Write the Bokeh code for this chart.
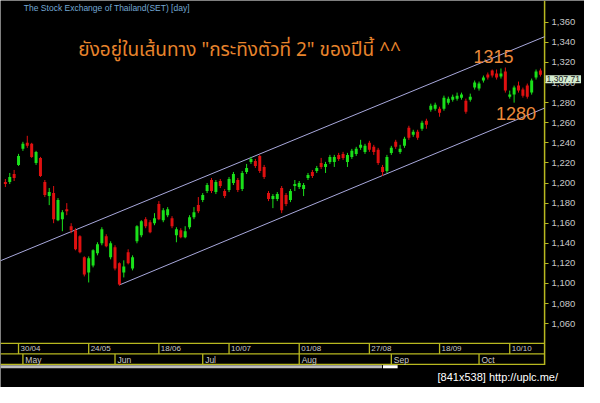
from bokeh.plotting import figure
from bokeh.models import Range1d, LinearAxis, FixedTicker, NumeralTickFormatter, Label
from bokeh.core.properties import value
from bokeh.embed import file_html
from bokeh.resources import INLINE

# ---------------- data ----------------
opens = [1201, 1201, 1209, 1218, 1234, 1240, 1239, 1220, 1225, 1201,
         1187, 1190, 1163, 1164, 1174, 1157, 1153, 1147, 1126, 1111,
         1118, 1130, 1140, 1147, 1126, 1136, 1120, 1111, 1131, 1115,
         1142, 1148, 1164, 1161, 1160, 1179, 1163, 1168, 1165, 1148,
         1153, 1146, 1156, 1166, 1178, 1183, 1192, 1203, 1191, 1202,
         1192, 1193, 1200, 1203, 1194, 1211, 1221, 1222, 1227, 1216,
         1190, 1184, 1184, 1195, 1188, 1183, 1197, 1196, 1194, 1205,
         1211, 1212, 1220, 1216, 1221, 1221, 1228, 1229, 1221, 1226,
         1229, 1235, 1231, 1240, 1236, 1233, 1216, 1212, 1230, 1241,
         1231, 1237, 1255, 1248, 1251, 1254, 1262, 1273, 1274, 1274,
         1274, 1280, 1283, 1284, 1285, 1282, 1283, 1295, 1294, 1302,
         1308, 1312, 1309, 1306, 1311, 1286, 1288, 1297, 1293, 1297,
         1290, 1305, 1312]
highs = [1204, 1210, 1213, 1229, 1241, 1247, 1240, 1232, 1226, 1203,
         1195, 1197, 1185, 1173, 1180, 1160, 1155, 1148, 1127, 1127,
         1134, 1141, 1156, 1149, 1142, 1138, 1121, 1123, 1134, 1128,
         1158, 1163, 1166, 1163, 1170, 1182, 1175, 1176, 1167, 1156,
         1155, 1157, 1168, 1176, 1186, 1190, 1200, 1205, 1203, 1204,
         1194, 1206, 1211, 1205, 1212, 1219, 1226, 1224, 1228, 1218,
         1192, 1189, 1191, 1197, 1190, 1194, 1203, 1202, 1200, 1210,
         1213, 1217, 1225, 1221, 1228, 1228, 1230, 1231, 1230, 1234,
         1236, 1243, 1239, 1242, 1238, 1235, 1218, 1228, 1237, 1243,
         1238, 1246, 1257, 1253, 1253, 1262, 1264, 1279, 1280, 1276,
         1287, 1286, 1288, 1290, 1290, 1284, 1289, 1302, 1301, 1307,
         1310, 1313, 1313, 1314, 1315, 1292, 1297, 1301, 1295, 1299,
         1304, 1313, 1314]
lows = [1196, 1199, 1202, 1217, 1232, 1235, 1225, 1218, 1206, 1186,
        1178, 1160, 1162, 1152, 1168, 1150, 1133, 1130, 1107, 1101,
        1116, 1128, 1138, 1136, 1124, 1113, 1098, 1106, 1119, 1113,
        1140, 1146, 1155, 1150, 1158, 1163, 1161, 1166, 1155, 1141,
        1145, 1145, 1154, 1164, 1170, 1181, 1190, 1190, 1189, 1195,
        1185, 1191, 1198, 1191, 1192, 1209, 1219, 1215, 1210, 1204,
        1182, 1175, 1182, 1170, 1177, 1181, 1192, 1194, 1187, 1203,
        1205, 1210, 1214, 1210, 1219, 1216, 1222, 1223, 1216, 1224,
        1227, 1233, 1229, 1231, 1228, 1218, 1207, 1210, 1228, 1234,
        1229, 1235, 1243, 1246, 1243, 1252, 1254, 1271, 1272, 1266,
        1272, 1278, 1281, 1282, 1283, 1269, 1281, 1293, 1292, 1300,
        1303, 1305, 1303, 1304, 1290, 1284, 1280, 1290, 1285, 1284,
        1288, 1303, 1306]
closes = [1199, 1206, 1205, 1227, 1239, 1237, 1226, 1231, 1207, 1188,
          1191, 1164, 1183, 1171, 1172, 1153, 1134, 1131, 1109, 1125,
          1133, 1139, 1154, 1137, 1140, 1115, 1099, 1117, 1120, 1126,
          1157, 1162, 1157, 1151, 1165, 1164, 1173, 1174, 1157, 1154,
          1146, 1152, 1166, 1171, 1172, 1188, 1198, 1192, 1201, 1197,
          1187, 1204, 1209, 1193, 1210, 1215, 1224, 1217, 1212, 1206,
          1184, 1187, 1189, 1173, 1179, 1192, 1199, 1200, 1198, 1208,
          1207, 1215, 1216, 1219, 1226, 1226, 1224, 1225, 1228, 1232,
          1234, 1238, 1237, 1233, 1231, 1220, 1211, 1226, 1235, 1236,
          1234, 1244, 1245, 1251, 1245, 1260, 1258, 1277, 1278, 1270,
          1285, 1284, 1286, 1287, 1288, 1271, 1286, 1300, 1299, 1305,
          1305, 1307, 1305, 1309, 1292, 1288, 1295, 1292, 1287, 1286,
          1302, 1311, 1307.71]

y_ticks = list(range(1060, 1361, 20))
date_labels = ["30/04", "24/05", "18/06", "10/07", "01/08", "27/08", "18/09", "10/10"]
date_idx = [3, 19, 35, 51, 67, 83, 99, 115]
month_labels = ["May", "Jun", "Jul", "Aug", "Sep", "Oct"]
month_idx = [4, 25, 45, 67, 88, 108]

# channel (trend lines drawn on the chart): bar index, price
upper_x = [-1.11, 122.95]
upper_y = [1122.6, 1345.7]
lower_x = [26.0, 122.95]
lower_y = [1098.5, 1274.6]

last_price = closes[-1]

# ---------------- layout helpers (reference pixel -> data) ----------------
W, H = 584, 387


def ix(px):
    return (px - 5) / 4.506


def pv(py):
    return 1360 - (py - 22.7) / 1.046


YEL = "#b8b820"
GREEN = "#1ae01a"
RED = "#e01010"
GREY = "#c8c8c8"

p = figure(width=W, height=H, output_backend="svg", toolbar_location=None,
           x_range=Range1d(ix(0), ix(600)), y_range=Range1d(pv(403), pv(0)),
           x_axis_location=None, y_axis_location=None,
           min_border_left=0, min_border_top=0, min_border_right=0, min_border_bottom=0)
p.background_fill_color = "black"
p.border_fill_color = "black"
p.outline_line_color = None
p.xgrid.visible = False
p.ygrid.visible = False

ax = LinearAxis(ticker=FixedTicker(ticks=y_ticks), formatter=NumeralTickFormatter(format="0,0"),
                fixed_location=ix(559),
                axis_line_color=None,
                major_tick_line_color=YEL, major_tick_out=4, major_tick_in=0,
                minor_tick_line_color=None,
                major_label_text_color=GREY, major_label_text_font="Liberation Sans",
                major_label_text_font_size="9.5px", major_label_standoff=3)
p.add_layout(ax, "right")

# axis spine (stops at the bottom of the date rows)
p.segment(x0=[ix(559)], y0=[pv(379.5)], x1=[ix(559)], y1=[pv(0)], line_color=YEL, line_width=1.5)

# channel lines
p.line(upper_x, upper_y, line_color="#a8a8dc", line_width=1)
p.line(lower_x, lower_y, line_color="#a8a8dc", line_width=1)

# candles
n = len(closes)
xs = list(range(n))
cols = [GREEN if c >= o else RED for o, c in zip(opens, closes)]
p.segment(x0=xs, y0=lows, x1=xs, y1=highs, line_color=cols, line_width=1)
tops = [max(o, c) for o, c in zip(opens, closes)]
bots = [min(o, c) for o, c in zip(opens, closes)]
tops = [t if t - b > 0.6 else b + 0.9 for t, b in zip(tops, bots)]
p.vbar(x=xs, width=0.68, top=tops, bottom=bots, fill_color=cols, line_color=None)

# date / month rows
y_top, y_mid, y_bot = pv(357), pv(368), pv(379)
for yy in (y_top, y_mid, y_bot):
    p.segment(x0=[ix(0)], y0=[yy], x1=[ix(559)], y1=[yy], line_color=YEL, line_width=1.3)
p.segment(x0=date_idx, y0=[y_mid] * len(date_idx), x1=date_idx, y1=[y_top] * len(date_idx),
          line_color=YEL, line_width=1.3)
p.segment(x0=month_idx, y0=[y_bot] * len(month_idx), x1=month_idx, y1=[y_mid] * len(month_idx),
          line_color=YEL, line_width=1.3)
p.text(x=[i + 0.45 for i in date_idx], y=[pv(362.8)] * len(date_idx), text=date_labels,
       text_font=value("Liberation Sans"), text_font_size="8px", text_color=GREY,
       text_baseline="middle", text_align="left")
p.text(x=[i + 0.55 for i in month_idx], y=[pv(374)] * len(month_idx), text=month_labels,
       text_font=value("Liberation Sans"), text_font_size="8.5px", text_color=GREY,
       text_baseline="middle", text_align="left")

# scrollbar
p.quad(left=[ix(0)], right=[ix(392)], bottom=[pv(383)], top=[pv(379.8)], fill_color="#bdbdbd", line_color=None)
p.quad(left=[ix(393)], right=[ix(408)], bottom=[pv(383)], top=[pv(379.8)], fill_color="#ffffff", line_color=None)

# texts
p.add_layout(Label(x=ix(24), y=pv(8), text="The Stock Exchange of Thailand(SET) [day]",
                   text_font="Liberation Sans", text_font_size="8.5px", text_color="#74a8d4",
                   text_baseline="middle", text_align="left"))
p.add_layout(Label(x=ix(80), y=pv(52), text='ยังอยู่ในเส้นทาง "กระทิงตัวที่ 2" ของปีนี้ ^^',
                   text_font="Noto Sans Thai, Noto Sans, sans-serif", text_font_size="19px",
                   text_color="#e8842c", text_baseline="middle", text_align="left"))
p.add_layout(Label(x=ix(486), y=pv(58.5), text="1315", text_font="Liberation Sans",
                   text_font_size="18px", text_color="#ec8a3a", text_baseline="middle", text_align="left"))
p.add_layout(Label(x=ix(509), y=pv(118), text="1280", text_font="Liberation Sans",
                   text_font_size="18px", text_color="#ec8a3a", text_baseline="middle", text_align="left"))

# last price box (beside the axis)
p.add_layout(Label(x=ix(560), y=pv(82), text="{:,.2f}".format(last_price), text_font="Liberation Sans",
                   text_font_size="8.6px", text_color="#202020", text_baseline="middle", text_align="left",
                   background_fill_color="#d4ecd0", padding=1))

# watermark
p.add_layout(Label(x=ix(449), y=pv(392.5), text="[841x538] http://uplc.me/",
                   text_font="Liberation Sans",
                   text_font_size="11px", text_color="#ffffff", text_baseline="middle", text_align="left"))

open("out.html", "w").write(file_html(p, INLINE))
